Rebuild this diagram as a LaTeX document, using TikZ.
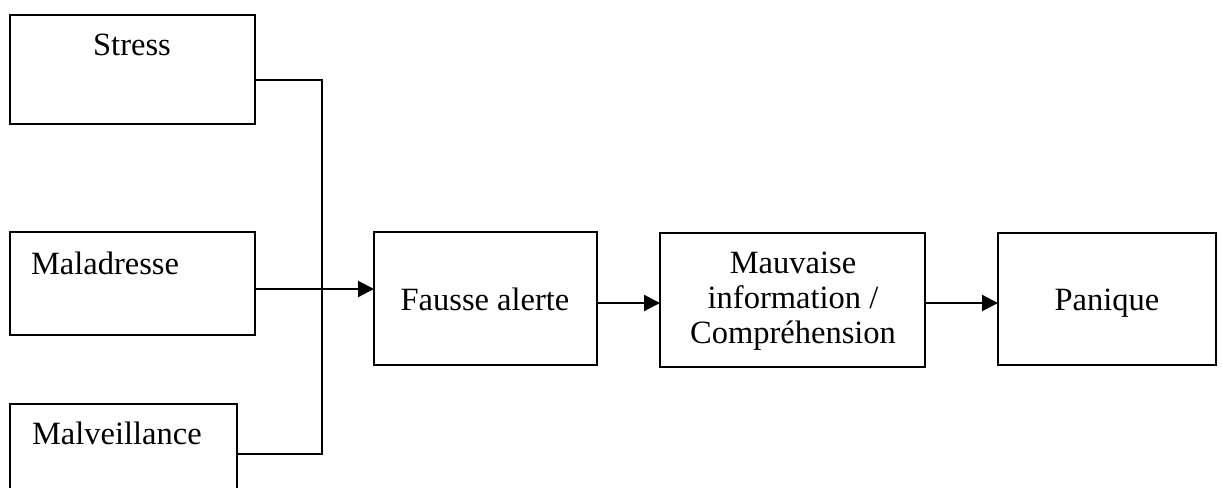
\documentclass[tikz,border=0pt]{standalone}
\usepackage{fontspec}
\setmainfont{Liberation Serif}
\usetikzlibrary{arrows.meta}
\tikzset{
  box/.style={draw=black, line width=2pt, inner sep=0pt, outer sep=0pt, fill=none},
  lbl/.style={inner sep=0pt, outer sep=0pt, font=\fontsize{32.5}{35}\selectfont},
  conn/.style={line width=2pt},
  arr/.style={line width=2.2pt, -{Triangle[length=16pt,width=16pt]}}
}
\begin{document}
\begin{tikzpicture}[x=1pt,y=-1pt]
\useasboundingbox (0,0) rectangle (1222,487);
% boxes
\node[box, minimum width=245pt, minimum height=109pt] (stress) at (132.5,69.5) {};
\node[box, minimum width=245pt, minimum height=103pt] (malad) at (132.5,283.5) {};
\node[box, minimum width=227pt, minimum height=96pt] (malv) at (123.5,452) {};
\node[box, minimum width=223pt, minimum height=133pt] (fausse) at (485.5,298.5) {};
\node[box, minimum width=265pt, minimum height=134pt] (mauv) at (792.5,300) {};
\node[box, minimum width=218pt, minimum height=132pt] (panique) at (1107,299) {};
% texts
\node[lbl, anchor=base] (tstress) at (132,56) {Stress};
\node[lbl, anchor=base west] (tmalad) at (31,274) {Maladresse};
\node[lbl, anchor=base west] (tmalv) at (32,444) {Malveillance};
\node[lbl, anchor=base] (tfausse) at (485,310) {Fausse alerte};
\node[lbl, align=center, anchor=center] (tmauv) at (793,301) {Mauvaise\\information /\\Compréhension};
\node[lbl, anchor=base] (tpanique) at (1107,310) {Panique};
% junction coordinates
\coordinate (jtop) at (322,80);
\coordinate (jbot) at (322,454);
\coordinate (jmid) at (322,289);
\coordinate (rowy) at (0,303);
% connectors
\draw[conn] (stress.east |- jtop) -- (jtop) -- (jbot) -- (malv.east |- jbot);
\draw[arr] (malad.east |- jmid) -- (fausse.west |- jmid);
\draw[arr] (fausse.east |- rowy) -- (mauv.west |- rowy);
\draw[arr] (mauv.east |- rowy) -- (panique.west |- rowy);
\end{tikzpicture}
\end{document}
